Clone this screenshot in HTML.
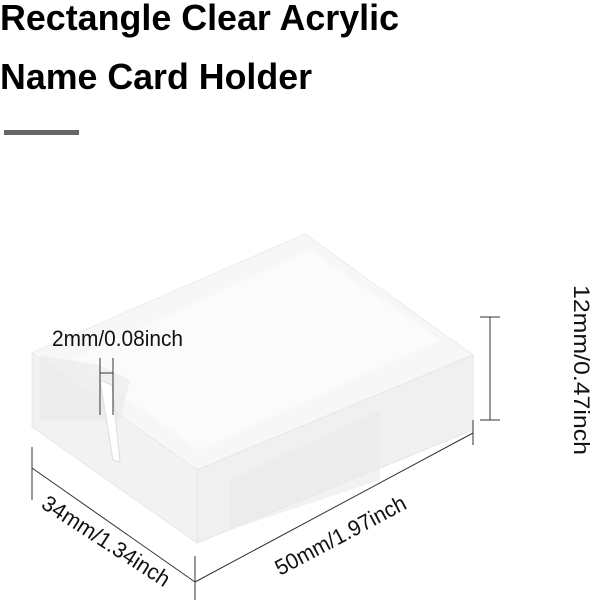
<!DOCTYPE html>
<html><head><meta charset="utf-8"><style>
html,body{margin:0;padding:0;background:#fff;}
svg{display:block;}
</style></head><body>
<svg width="600" height="600" viewBox="0 0 600 600" xmlns="http://www.w3.org/2000/svg" font-family="Liberation Sans, Arial, sans-serif">
<rect width="600" height="600" fill="#fff"/>
<text x="0" y="30" font-size="36" font-weight="bold" fill="#000" textLength="399" lengthAdjust="spacingAndGlyphs">Rectangle Clear Acrylic</text>
<text x="0" y="89" font-size="36" font-weight="bold" fill="#000" textLength="312" lengthAdjust="spacingAndGlyphs">Name Card Holder</text>
<rect x="4" y="130" width="75" height="5" fill="#666"/>
<polygon points="32,353 305,234 473,355 197,470" fill="#f7f7f7" stroke="#ececec"/>
<polygon points="32,353 197,470 197,543 32,427" fill="#f2f2f2" stroke="#e8e8e8"/>
<polygon points="197,470 473,355 473,430 197,543" fill="#f0f0f0" stroke="#e6e6e6"/>
<polygon points="70,360 310,250 440,340 200,450" fill="#fbfbfb"/>
<polygon points="40,355 100,365 130,380 120,420 40,420" fill="#ebebeb" opacity="0.7"/>
<polygon points="100,380 112,385 120,462 113,460" fill="#fff" stroke="#ddd"/>
<polygon points="230,480 380,410 380,480 230,530" fill="#e9e9e9" opacity="0.6"/>
<g stroke="#333" stroke-width="1" fill="none">
<line x1="32" y1="468" x2="195" y2="582"/>
<line x1="32" y1="447" x2="32" y2="500"/>
<line x1="195" y1="556" x2="195" y2="600"/>
<line x1="195" y1="582" x2="473" y2="433"/>
<line x1="473" y1="420" x2="473" y2="445"/>
<line x1="490" y1="317" x2="490" y2="420"/>
<line x1="480" y1="317" x2="500" y2="317"/>
<line x1="480" y1="420" x2="500" y2="420"/>
<line x1="100" y1="358" x2="100" y2="415"/>
<line x1="113" y1="358" x2="113" y2="415"/>
<line x1="100" y1="373" x2="113" y2="373"/>
</g>
<g fill="#111" font-size="22">
<text x="52" y="346" textLength="131" lengthAdjust="spacingAndGlyphs">2mm/0.08inch</text>
<text transform="translate(574,285) rotate(90)" x="0" y="0" textLength="170" lengthAdjust="spacingAndGlyphs">12mm/0.47inch</text>
<text transform="translate(280,576) rotate(-28)" x="0" y="0" textLength="145" lengthAdjust="spacingAndGlyphs">50mm/1.97inch</text>
<text transform="translate(40,507) rotate(33)" x="0" y="0" textLength="148" lengthAdjust="spacingAndGlyphs">34mm/1.34inch</text>
</g>
</svg>
</body></html>
